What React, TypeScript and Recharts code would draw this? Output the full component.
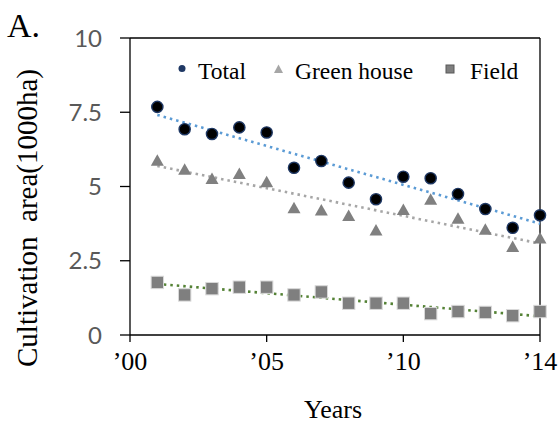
import React from "react";
import {
  ComposedChart,
  Scatter,
  Line,
  XAxis,
  YAxis,
  ReferenceLine,
} from "recharts";

// years 2001..2015 sit at x = 1..15 on the axis
const YEARS = [1, 2, 3, 4, 5, 6, 7, 8, 9, 10, 11, 12, 13, 14, 15];
const TOTAL = [7.68, 6.93, 6.77, 6.99, 6.82, 5.63, 5.86, 5.13, 4.57, 5.33, 5.28, 4.75, 4.24, 3.61, 4.03];
const GREEN_HOUSE = [5.87, 5.56, 5.25, 5.42, 5.14, 4.27, 4.19, 4.01, 3.52, 4.21, 4.55, 3.91, 3.54, 2.96, 3.25];
const FIELD = [1.77, 1.35, 1.56, 1.61, 1.61, 1.35, 1.45, 1.07, 1.07, 1.07, 0.72, 0.79, 0.76, 0.65, 0.79];

// trendline end points (x = 1 and x = 15)
const TREND_X = [1, 15];
const TOTAL_TREND = [7.41, 3.75];
const GREEN_TREND = [5.69, 3.08];
const FIELD_TREND = [1.72, 0.63];

const X_TICKS = [0, 5, 10, 15];
const X_LABELS = ["\u201900", "\u201905", "\u201910", "\u201914"];
const Y_TICKS = [0, 2.5, 5, 7.5, 10];

const pts = (ys: number[]) => YEARS.map((x, i) => ({ x, y: ys[i] }));
const trend = (ys: number[]) => TREND_X.map((x, i) => ({ x, y: ys[i] }));

const serif = "Liberation Serif, Times New Roman, serif";
const serifStyle = { fontFamily: serif };

function CircleMark({ cx, cy }: any) {
  return <circle cx={cx} cy={cy} r={5.6} fill="#000" stroke="#1f3864" strokeWidth={1.4} />;
}

function TriangleMark({ cx, cy }: any) {
  const w = 6.5;
  return (
    <polygon
      points={`${cx - w},${cy + 5} ${cx + w},${cy + 5} ${cx},${cy - 6.5}`}
      fill="#808080"
    />
  );
}

function SquareMark({ cx, cy }: any) {
  const s = 6.2;
  return (
    <rect x={cx - s} y={cy - s} width={s * 2} height={s * 2} fill="#7f7f7f" stroke="#d9d9d9" strokeWidth={1} />
  );
}

function XTick({ x, y, payload }: any) {
  return (
    <text x={x} y={y} dy={17} textAnchor="middle" fontSize={26} fill="#000" style={serifStyle}>
      {X_LABELS[X_TICKS.indexOf(payload.value)]}
    </text>
  );
}

function Overlay() {
  return (
    <svg width={560} height={424} style={{ position: "absolute", left: 0, top: 0, pointerEvents: "none" }}>
      <text x={7} y={37} fontSize={34} fill="#000" style={serifStyle}>
        A.
      </text>
      <text
        transform="translate(37, 218) rotate(-90)"
        textAnchor="middle"
        fontSize={29}
        fill="#000"
        style={{ ...serifStyle, whiteSpace: "pre" }}
      >
        Cultivation  area(1000ha)
      </text>
      <text x={333} y={418} textAnchor="middle" fontSize={26} fill="#000" style={serifStyle}>
        Years
      </text>
      {/* legend */}
      <circle cx={182} cy={68.5} r={3.5} fill="#1f3864" />
      <text x={198} y={79} fontSize={23.5} fill="#000" style={serifStyle}>
        Total
      </text>
      <polygon points="274,73 283,73 278.5,64.5" fill="#a6a6a6" />
      <text x={295} y={79} fontSize={23.5} fill="#000" style={serifStyle}>
        Green house
      </text>
      <rect x={446} y={65} width={8} height={8} fill="#7f7f7f" stroke="#595959" strokeWidth={1} />
      <text x={470} y={79} fontSize={23.5} fill="#000" style={serifStyle}>
        Field
      </text>
    </svg>
  );
}

export default function App() {
  return (
    <div style={{ position: "absolute", left: 0, top: 0, width: 560, height: 424, background: "#fff" }}>
      <ComposedChart width={560} height={424} margin={{ top: 38, right: 20, bottom: 59, left: 70 }}>
        <XAxis
          type="number"
          dataKey="x"
          domain={[0, 15]}
          ticks={X_TICKS}
          height={30}
          tickSize={7}
          tickMargin={11}
          axisLine={{ stroke: "#000", strokeWidth: 1.3 }}
          tickLine={{ stroke: "#000", strokeWidth: 1.3 }}
          tick={<XTick />}
          interval={0}
        />
        <YAxis
          type="number"
          domain={[0, 10]}
          ticks={Y_TICKS}
          width={60}
          tickSize={10}
          tickMargin={18}
          axisLine={{ stroke: "#000", strokeWidth: 1.3 }}
          tickLine={{ stroke: "#000", strokeWidth: 1.3 }}
          tick={{ fontSize: 24, fill: "#595959", fontFamily: "Lato" }}
          interval={0}
        />
        <ReferenceLine y={10} stroke="#000" strokeWidth={1.3} />
        <ReferenceLine x={15} stroke="#000" strokeWidth={1.3} />
        <Scatter data={pts(FIELD)} dataKey="y" shape={SquareMark} isAnimationActive={false} />
        <Scatter data={pts(GREEN_HOUSE)} dataKey="y" shape={TriangleMark} isAnimationActive={false} />
        <Scatter data={pts(TOTAL)} dataKey="y" shape={CircleMark} isAnimationActive={false} />
        <Line
          data={trend(FIELD_TREND)}
          dataKey="y"
          stroke="#548235"
          strokeWidth={2.6}
          strokeDasharray="2.5 4"
          dot={false}
          activeDot={false}
          isAnimationActive={false}
        />
        <Line
          data={trend(GREEN_TREND)}
          dataKey="y"
          stroke="#a6a6a6"
          strokeWidth={2.6}
          strokeDasharray="2.5 4"
          dot={false}
          activeDot={false}
          isAnimationActive={false}
        />
        <Line
          data={trend(TOTAL_TREND)}
          dataKey="y"
          stroke="#5b9bd5"
          strokeWidth={2.6}
          strokeDasharray="2.5 4"
          dot={false}
          activeDot={false}
          isAnimationActive={false}
        />
      </ComposedChart>
      <Overlay />
    </div>
  );
}
